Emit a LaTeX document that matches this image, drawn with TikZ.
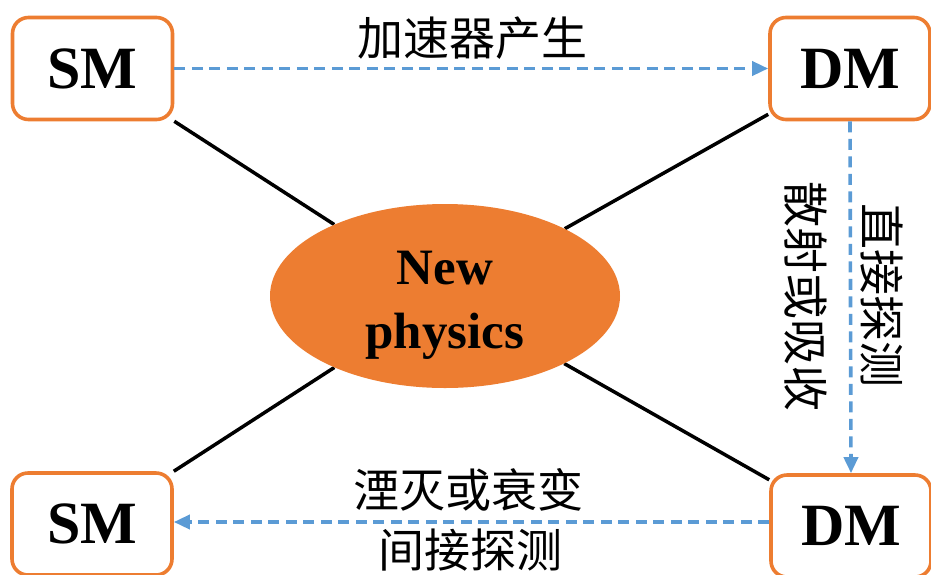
\documentclass[tikz,border=0pt]{standalone}
\usepackage{fontspec}
\setmainfont{Liberation Serif}
\newfontfamily\cjk{Noto Sans CJK SC}
\usetikzlibrary{shapes.geometric,arrows.meta,backgrounds}
\definecolor{orng}{HTML}{ED7D31}
\definecolor{blu}{HTML}{5B9BD5}
\begin{document}
\begin{tikzpicture}[x=1pt,y=-1pt,
  boxnode/.style={draw=orng,line width=3.6pt,rounded corners=16pt,fill=white,
    minimum width=160pt,minimum height=102pt,inner sep=0pt,
    font=\fontsize{60}{60}\selectfont\bfseries},
  link/.style={line width=3.5pt,black},
  dasharrow/.style={blu,line width=3.6pt,dash pattern=on 11pt off 6.5pt,
    -{Triangle[length=16pt,width=14pt]}},
  lbl/.style={font=\cjk\fontsize{46}{46}\selectfont,inner sep=0pt}]
\useasboundingbox (0,0) rectangle (931,574);
\node[ellipse,fill=orng,minimum width=350pt,minimum height=184pt,inner sep=0pt,
  align=center,font=\fontsize{51}{64}\selectfont\bfseries] (np) at (445,296) {\rule{0pt}{52pt}New\\physics};
\node[boxnode] (sm1) at (92.5,68.5) {SM};
\node[boxnode] (dm1) at (850,68.5) {DM};
\node[boxnode] (sm2) at (92,524) {SM};
\node[boxnode] (dm2) at (851,526) {DM};
\begin{scope}[on background layer]
\draw[link] (sm1) -- (np);
\draw[link] (dm1) -- (np);
\draw[link] (sm2) -- (np);
\draw[link] (dm2) -- (np);
\end{scope}
\draw[dasharrow] (sm1.east) -- (dm1.west);
\draw[dasharrow] (dm1.south) -- (dm2.north);
\draw[dasharrow] (dm2.west |- 0,522) -- (sm2.east |- 0,522);
\node[lbl] (t1) at (472,38) {加速器产生};
\node[lbl] (t2) at (468,490) {湮灭或衰变};
\node[lbl] (t3) at (470,550) {间接探测};
\node[lbl,rotate=-90] (t4) at (806,296) {散射或吸收};
\node[lbl,rotate=-90] (t5) at (882,295) {直接探测};
\end{tikzpicture}
\end{document}
